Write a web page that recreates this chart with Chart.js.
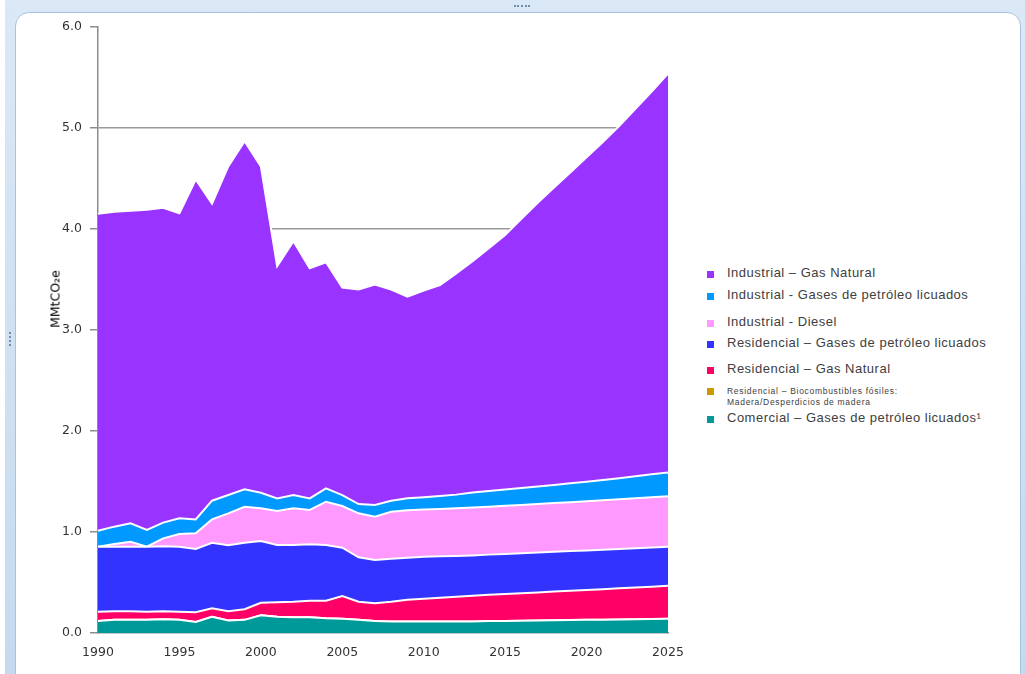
<!DOCTYPE html>
<html>
<head>
<meta charset="utf-8">
<title>Emisiones por sector</title>
<script src="https://cdn.jsdelivr.net/npm/chart.js@4.4.1/dist/chart.umd.min.js"></script>
<style>
    html, body { margin: 0; padding: 0; width: 1025px; height: 674px; overflow: hidden; background: #fff; }
    .marco { position: absolute; left: 5px; top: 0; width: 1020px; height: 674px; background: linear-gradient(#dbe8f6, #c6daef); }
    .panel { position: absolute; left: 15px; top: 12px; width: 1004px; height: 675px; background: #fff; border: 1px solid #a7c3df; border-radius: 14px; }
    .asa-sup { position: absolute; left: 514px; top: 5px; width: 16px; border-top: 2px dotted #6f90b3; }
    .asa-izq { position: absolute; left: 9px; top: 332px; height: 14px; border-left: 2px dotted #6f90b3; }
    #grafico { position: absolute; left: 0; top: 0; }
    .eje-titulo { position: absolute; left: 55px; top: 299px; transform: translate(-50%, -50%) rotate(-90deg);
                  font: 12.5px "DejaVu Sans", sans-serif; color: #000; white-space: nowrap; }
    .leyenda { position: absolute; left: 707px; top: 0; font-family: "Liberation Sans", Arial, sans-serif; color: #404040; }
    .item { position: absolute; left: 0; white-space: nowrap; }
    .item i { position: absolute; left: 0; width: 7px; height: 7px; }
    .item span { position: absolute; left: 20px; font-size: 13px; line-height: 14px; letter-spacing: 0.5px; }
    .item span.chica { font-size: 8.5px; line-height: 11px; letter-spacing: 0.7px; }
</style>
</head>
<body>
<div class="marco"></div>
<div class="panel"></div>
<div class="asa-sup"></div>
<div class="asa-izq"></div>
<canvas id="grafico" width="700" height="674"></canvas>
<div class="eje-titulo">MMtCO₂e</div>
<div class="leyenda" id="leyenda"></div>

<script>
// datos (MMtCO2e por año)
const anios = [1990, 1991, 1992, 1993, 1994, 1995, 1996, 1997, 1998, 1999,
               2000, 2001, 2002, 2003, 2004, 2005, 2006, 2007, 2008, 2009,
               2010, 2011, 2012, 2013, 2014, 2015, 2016, 2017, 2018, 2019,
               2020, 2021, 2022, 2023, 2024, 2025];

const comercialGlp = [0.12, 0.13, 0.13, 0.13, 0.135, 0.13, 0.11, 0.16, 0.125, 0.13,
                      0.175, 0.16, 0.155, 0.155, 0.145, 0.14, 0.13, 0.12, 0.115, 0.115,
                      0.115, 0.115, 0.115, 0.115, 0.118, 0.12, 0.122, 0.124, 0.126, 0.128,
                      0.13, 0.132, 0.134, 0.136, 0.138, 0.14];

const residencialBio = [0, 0, 0, 0, 0, 0, 0, 0, 0, 0,
                        0, 0, 0, 0, 0, 0, 0, 0, 0, 0,
                        0, 0, 0, 0, 0, 0, 0, 0, 0, 0,
                        0, 0, 0, 0, 0, 0];

const residencialGn = [0.09, 0.085, 0.085, 0.08, 0.08, 0.08, 0.095, 0.085, 0.09, 0.105,
                       0.125, 0.145, 0.155, 0.165, 0.175, 0.225, 0.18, 0.175, 0.195, 0.215,
                       0.225, 0.235, 0.245, 0.255, 0.26, 0.266, 0.272, 0.278, 0.284, 0.29,
                       0.296, 0.302, 0.308, 0.314, 0.321, 0.328];

const residencialGlp = [0.645, 0.64, 0.64, 0.645, 0.643, 0.645, 0.627, 0.649, 0.653, 0.659,
                        0.611, 0.566, 0.561, 0.558, 0.551, 0.48, 0.439, 0.428, 0.426, 0.416,
                        0.416, 0.409, 0.402, 0.398, 0.398, 0.397, 0.396, 0.395, 0.394, 0.393,
                        0.392, 0.391, 0.39, 0.389, 0.388, 0.387];

const industrialDiesel = [0, 0.026, 0.049, 0, 0.079, 0.125, 0.155, 0.231, 0.317, 0.356,
                          0.324, 0.337, 0.363, 0.34, 0.429, 0.412, 0.436, 0.429, 0.465, 0.469,
                          0.466, 0.469, 0.472, 0.474, 0.474, 0.476, 0.478, 0.48, 0.482, 0.484,
                          0.487, 0.49, 0.493, 0.496, 0.498, 0.5];

const industrialGlp = [0.158, 0.172, 0.182, 0.165, 0.156, 0.155, 0.138, 0.185, 0.181, 0.173,
                       0.154, 0.125, 0.132, 0.115, 0.132, 0.109, 0.092, 0.115, 0.109, 0.118,
                       0.121, 0.128, 0.136, 0.148, 0.155, 0.161, 0.167, 0.173, 0.18, 0.187,
                       0.193, 0.2, 0.208, 0.217, 0.226, 0.235];

const industrialGn = [3.137, 3.117, 3.094, 3.17, 3.117, 3.02, 3.365, 2.94, 3.254, 3.447,
                      3.231, 2.297, 2.514, 2.277, 2.238, 2.054, 2.123, 2.183, 2.09, 1.997,
                      2.047, 2.089, 2.19, 2.29, 2.405, 2.52, 2.665, 2.81, 2.944, 3.078,
                      3.212, 3.345, 3.487, 3.638, 3.789, 3.95];

const yTicks = [0, 1, 2, 3, 4, 5, 6];

// series de abajo hacia arriba
const series = [
    { nombre: 'Comercial – Gases de petróleo licuados¹', datos: comercialGlp, color: '#009999' },
    { nombre: 'Residencial – Biocombustibles fósiles:<br>Madera/Desperdicios de madera', datos: residencialBio, color: '#cc9900', chica: true },
    { nombre: 'Residencial – Gas Natural', datos: residencialGn, color: '#ff0066' },
    { nombre: 'Residencial – Gases de petróleo licuados', datos: residencialGlp, color: '#3333ff' },
    { nombre: 'Industrial - Diesel', datos: industrialDiesel, color: '#ff99ff' },
    { nombre: 'Industrial - Gases de petróleo licuados', datos: industrialGlp, color: '#0099ff' },
    { nombre: 'Industrial – Gas Natural', datos: industrialGn, color: '#9933ff' }
];

// posición vertical (centro) de cada fila de la leyenda, de arriba hacia abajo
const filasLeyenda = [274, 296, 323, 344, 370, 391, 419];

const Grafico = {
    init: function() {
        this.dibujar();
        this.leyenda();
    },

    dibujar: function() {
        const ctx = document.getElementById('grafico');
        const fuente = { family: 'DejaVu Sans', size: 12.5 };

        new Chart(ctx, {
            type: 'line',
            data: {
                labels: anios,
                datasets: series.map((s, i) => ({
                    label: s.nombre,
                    data: s.datos,
                    backgroundColor: s.color,
                    borderColor: '#ffffff',
                    borderWidth: 2,
                    pointRadius: 0,
                    tension: 0,
                    fill: i === 0 ? 'origin' : '-1'
                }))
            },
            options: {
                responsive: false,
                animation: false,
                layout: { padding: { left: 0, top: 27, right: 32, bottom: 0 } },
                plugins: {
                    legend: { display: false },
                    tooltip: { enabled: false }
                },
                scales: {
                    x: {
                        grid: { display: false, drawTicks: false },
                        border: { display: true, color: '#8c8c8c', width: 1.5 },
                        ticks: {
                            autoSkip: false,
                            maxRotation: 0,
                            padding: 12,
                            color: '#333',
                            font: fuente,
                            callback: function(v, i) {
                                return anios[i] % 5 === 0 ? String(anios[i]) : '';
                            }
                        },
                        afterFit: function(scale) { scale.height = 41; }
                    },
                    y: {
                        stacked: true,
                        min: yTicks[0],
                        max: yTicks[yTicks.length - 1],
                        afterBuildTicks: function(scale) {
                            scale.ticks = yTicks.map(v => ({ value: v }));
                        },
                        ticks: {
                            padding: 8,
                            color: '#333',
                            font: fuente,
                            callback: v => v.toFixed(1)
                        },
                        grid: {
                            color: c => (c.tick && c.tick.value > 0 && c.tick.value < 6) ? '#9a9a9a' : 'rgba(0,0,0,0)',
                            lineWidth: 1.5,
                            tickColor: '#8c8c8c',
                            tickLength: 8
                        },
                        border: { display: true, color: '#8c8c8c', width: 1.5 },
                        afterFit: function(scale) { scale.width = 98; }
                    }
                }
            }
        });
    },

    // leyenda en HTML, misma disposición que el original
    leyenda: function() {
        const cont = document.getElementById('leyenda');
        const orden = series.slice().reverse();
        orden.forEach((s, i) => {
            const fila = document.createElement('div');
            fila.className = 'item';
            fila.style.top = filasLeyenda[i] + 'px';
            const cuadro = document.createElement('i');
            cuadro.style.background = s.color;
            cuadro.style.top = '-3px';
            const texto = document.createElement('span');
            texto.innerHTML = s.nombre;
            if (s.chica) {
                texto.className = 'chica';
                texto.style.top = '-5px';
            } else {
                texto.style.top = '-8px';
            }
            fila.appendChild(cuadro);
            fila.appendChild(texto);
            cont.appendChild(fila);
        });
    }
};

Grafico.init();
</script>
</body>
</html>
